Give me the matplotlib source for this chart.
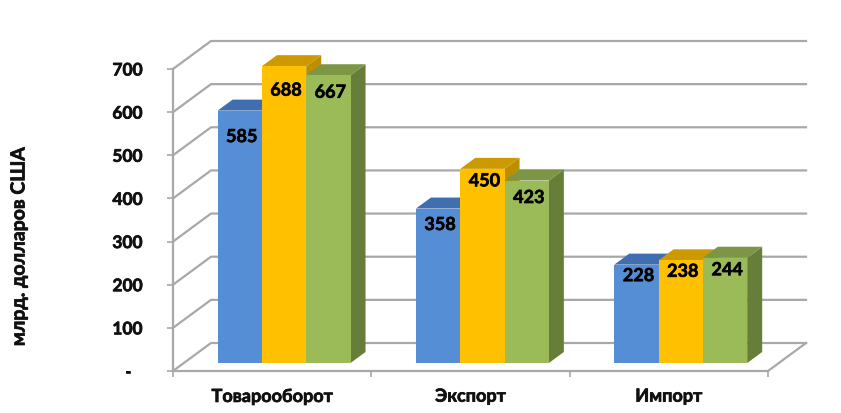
import numpy as np
import matplotlib
matplotlib.use('Agg')
import matplotlib.pyplot as plt
import matplotlib.patheffects as pe

# data
categories = ['Товарооборот', 'Экспорт', 'Импорт']
series_a = [585, 358, 228]
series_b = [688, 450, 238]
series_c = [667, 423, 244]
y_ticks = [0, 100, 200, 300, 400, 500, 600, 700]
y_labels = ['-', '100', '200', '300', '400', '500', '600', '700']
y_title = 'млрд. долларов США'

plt.rcParams['font.family'] = ['Lato', 'Open Sans', 'DejaVu Sans']

W, H = 841, 413
fig = plt.figure(figsize=(W / 100, H / 100), dpi=100)
ax = fig.add_axes([173 / W, (H - 371) / H, 595 / W, 302 / H])
ax.set_xlim(0, 3)
ax.set_ylim(0, 700)

# sizes of the fake 3d view in data units
ux = 595 / 3
uy = 302 / 700
wall_dx = 38 / ux
wall_dy = 28 / uy
bar_w = 44.3 / ux
bar_dx = 15 / ux
bar_dy = 11 / uy
base_dx = 0.06
base_y = 8 / uy
grid_col = '#a8a8a8'

# text in the reference looks heavier than Lato bold
heavy = [pe.withStroke(linewidth=0.5, foreground='#111111')]

# back wall, left wall and floor
for t in y_ticks:
    ax.plot([0, wall_dx, 3 + wall_dx], [t, t + wall_dy, t + wall_dy], color=grid_col,
            lw=1.6, clip_on=False, zorder=1)
ax.plot([3, 3 + wall_dx], [0, wall_dy], color=grid_col, lw=1.6, clip_on=False, zorder=1)


def draw_bar(x0, val, front, top, side):
    y0 = base_y
    y1 = base_y + val
    x1 = x0 + bar_w
    ax.fill([x1, x1 + bar_dx, x1 + bar_dx, x1], [y0, y0 + bar_dy, y1 + bar_dy, y1],
            color=side, lw=0, clip_on=False, zorder=3)
    ax.fill([x0, x0 + bar_dx, x1 + bar_dx, x1], [y1, y1 + bar_dy, y1 + bar_dy, y1],
            color=top, lw=0, clip_on=False, zorder=3)
    ax.fill([x0, x1, x1, x0], [y0, y0, y1, y1], color=front, lw=0, clip_on=False, zorder=3)


colors = [('#558ed5', '#3f6fb0', '#3a659c'),
          ('#ffc000', '#cc9a00', '#bd8f00'),
          ('#9bbb59', '#7c9645', '#677e3b')]
series = [series_a, series_b, series_c]
# how far below the bar top each value label sits, pixels
drops = [[26, 16, 11], [24, 12, 11], [17, 17, 12]]

for i in range(3):
    for k in range(3):
        x0 = i + 0.5 + base_dx + (k - 1.5) * bar_w
        front, top, side = colors[k]
        draw_bar(x0, series[k][i], front, top, side)
        ax.annotate(str(series[k][i]), (x0 + bar_w / 2, base_y + series[k][i]),
                    xytext=(2, -drops[k][i]), textcoords='offset pixels',
                    ha='center', va='center', fontsize=13, fontweight='bold',
                    color='black', zorder=5, annotation_clip=False, path_effects=heavy)

# axes
for s in ['top', 'right']:
    ax.spines[s].set_visible(False)
for s in ['left', 'bottom']:
    ax.spines[s].set_color(grid_col)
    ax.spines[s].set_linewidth(1.6)
    ax.spines[s].set_zorder(2)
ax.set_yticks(y_ticks)
ax.set_yticklabels(y_labels, fontsize=12.5, fontweight='bold', color='#111111', path_effects=heavy)
ax.get_yticklabels()[0].set_x(-11 / 595)
ax.set_xticks([0, 1, 2, 3])
ax.set_xticklabels([])
ax.set_xticks([0.5, 1.5, 2.5], minor=True)
ax.set_xticklabels(categories, minor=True, fontsize=13, fontweight='bold', color='#111111', path_effects=heavy)
ax.tick_params(axis='y', length=4, width=1.2, color=grid_col, pad=18)
ax.tick_params(axis='x', which='major', length=4, width=1.2, color=grid_col)
ax.tick_params(axis='x', which='minor', length=0, pad=12)

fig.text(19 / W, 1 - 246 / H, y_title, rotation=90, ha='center', va='center',
         fontsize=14, fontweight='bold', color='#111111', path_effects=heavy)

fig.savefig('out.png', dpi=100)
